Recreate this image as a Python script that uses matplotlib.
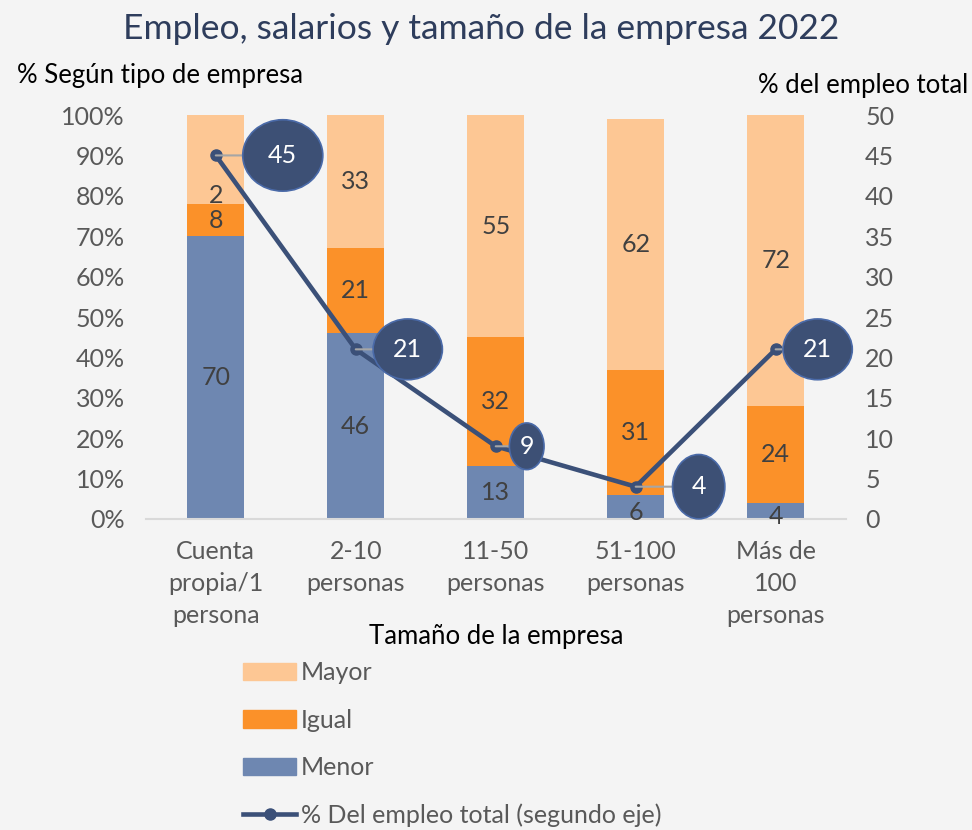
import numpy as np
import matplotlib
matplotlib.use("Agg")
from matplotlib import pyplot as plt
from matplotlib.patches import Patch
from matplotlib.lines import Line2D

categories = ["Cuenta\npropia/1\npersona", "2-10\npersonas", "11-50\npersonas",
              "51-100\npersonas", "Más de\n100\npersonas"]
menor = [70, 46, 13, 6, 4]
igual = [8, 21, 32, 31, 24]
mayor = [22, 33, 55, 62, 72]
mayor_labels = ["2", "33", "55", "62", "72"]
empleo_total = [45, 21, 9, 4, 21]

c_mayor = "#fdc794"
c_igual = "#fb9129"
c_menor = "#6e87b1"
c_line = "#3b5078"
c_text = "#595959"

plt.rcParams["font.family"] = ["Lato", "DejaVu Sans"]

fig = plt.figure(figsize=(9.72, 8.3), dpi=100, facecolor="#f4f4f4")
ax = fig.add_axes([0.150, 0.3747, 0.720, 0.4867])
ax.set_facecolor("none")
ax2 = ax.twinx()

x = np.arange(len(categories))
w = 0.41
menor = np.array(menor)
igual = np.array(igual)
mayor = np.array(mayor)

ax.bar(x, menor, w, color=c_menor, zorder=2)
ax.bar(x, igual, w, bottom=menor, color=c_igual, zorder=2)
ax.bar(x, mayor, w, bottom=menor + igual, color=c_mayor, zorder=2)

lab_kw = dict(ha="center", va="center", fontsize=18, color="#404040", zorder=3)
for i in range(len(x)):
    ax.text(x[i], menor[i] / 2 if menor[i] > 8 else menor[i] / 2 - 1.5, str(menor[i]), **lab_kw)
    ax.text(x[i], menor[i] + igual[i] / 2, str(igual[i]), **lab_kw)
    if i == 0:
        ax.text(x[i], menor[i] + igual[i] + 2, mayor_labels[i], **lab_kw)
    else:
        ax.text(x[i], menor[i] + igual[i] + mayor[i] / 2, mayor_labels[i], **lab_kw)

ax.set_xlim(-0.5, len(x) - 0.5)
ax.set_ylim(0, 100)
ax.set_yticks(np.arange(0, 101, 10))
ax.set_yticklabels(["%d%%" % v for v in range(0, 101, 10)])
ax.set_xticks(x)
ax.set_xticklabels(categories, linespacing=1.48)
ax.tick_params(axis="both", length=0, labelsize=18, labelcolor=c_text)
ax.tick_params(axis="x", pad=15)
ax.tick_params(axis="y", pad=15)
for s in ["top", "left", "right"]:
    ax.spines[s].set_visible(False)
ax.spines["bottom"].set_color("#d9d9d9")
ax.spines["bottom"].set_linewidth(1.5)

ax2.set_ylim(0, 50)
ax2.set_yticks(np.arange(0, 51, 5))
ax2.tick_params(axis="y", length=0, labelsize=18, labelcolor=c_text, pad=14)
for s in ax2.spines.values():
    s.set_visible(False)

ax2.plot(x, empleo_total, color=c_line, lw=3.3, marker="o", ms=8, zorder=4)
offsets = [67, 52, 31, 63, 42]
boxes = [0.55, 0.4, 0.2, 0.45, 0.4]
for i, v in enumerate(empleo_total):
    ax2.annotate(str(v), xy=(x[i], v), xytext=(offsets[i], 0), textcoords="offset pixels",
                 ha="center", va="center", fontsize=18, color="white", zorder=5,
                 bbox=dict(boxstyle="ellipse,pad=%s" % boxes[i], fc="#3d5075", ec="#4a6aa8", lw=1.2),
                 arrowprops=dict(arrowstyle="-", color="#a6a6a6", lw=1.5, shrinkA=0, shrinkB=0))

fig.text(0.495, 0.965, "Empleo, salarios y tamaño de la empresa 2022", ha="center", va="center",
         fontsize=25.5, color="#2e3d5c")
fig.text(0.018, 0.909, "% Según tipo de empresa", ha="left", va="center", fontsize=18.5, color="black")
fig.text(0.996, 0.897, "% del empleo total", ha="right", va="center", fontsize=18.5, color="black")
fig.text(0.510, 0.233, "Tamaño de la empresa", ha="center", va="center", fontsize=18.5, color="black")

handles = [Patch(color=c_mayor), Patch(color=c_igual), Patch(color=c_menor),
           Line2D([0], [0], color=c_line, lw=3.3, marker="o", ms=8)]
labels = ["Mayor", "Igual", "Menor", "% Del empleo total (segundo eje)"]
fig.legend(handles, labels, loc="upper left", bbox_to_anchor=(0.24, 0.2155), frameon=False,
           fontsize=18, labelcolor=c_text, handlelength=2.1, handleheight=0.7,
           handletextpad=0.2, labelspacing=0.98, borderaxespad=0)

fig.savefig("out.png", dpi=100, facecolor=fig.get_facecolor())
